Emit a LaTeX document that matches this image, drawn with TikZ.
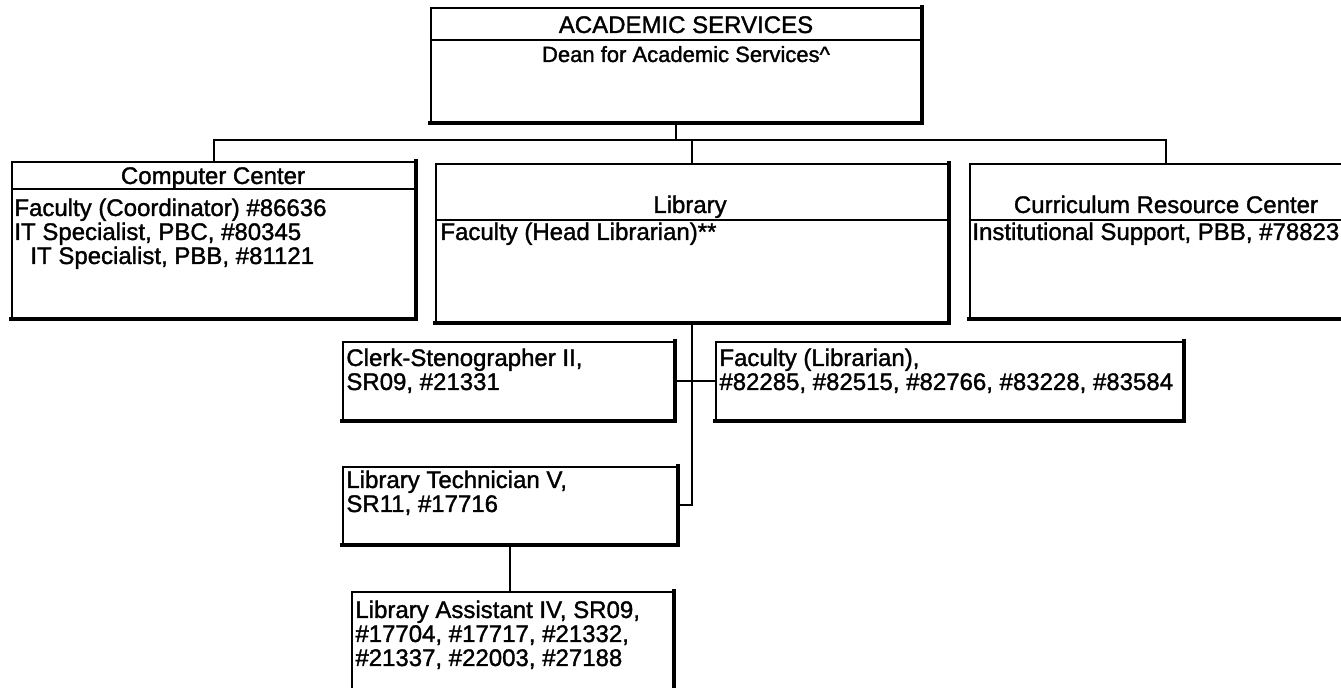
\documentclass[tikz,border=0pt]{standalone}
\usepackage{fontspec}
\setmainfont{Liberation Sans}[FakeBold=1.4]
\usetikzlibrary{fit}

\tikzset{
  box/.style={draw, line width=1.1pt, inner sep=0pt},
  edge shade/.style={line width=2.2pt, line cap=rect},
  divider/.style={line width=0.8pt},
  link/.style={line width=1pt},
  label text/.style={inner sep=0pt, align=left, font=\fontsize{12}{12}\selectfont},
}

\begin{document}
\begin{tikzpicture}[x=0.5pt, y=-0.5pt]
  \useasboundingbox (0,0) rectangle (1341,688);

  \node[box, fit={(431,8) (921,122)}]    (dean)  {};
  \node[box, fit={(12,162) (415,318)}]   (comp)  {};
  \node[box, fit={(436,164) (948,322)}]  (lib)   {};
  \node[box, fit={(970,164) (1362,318)}] (crc)   {};
  \node[box, fit={(343,342) (674,420)}]  (clerk) {};
  \node[box, fit={(716,342) (1183,420)}] (fac)   {};
  \node[box, fit={(343,467) (677,544)}]  (tech)  {};
  \node[box, fit={(352,592) (673,700)}]  (asst)  {};

  \foreach \n in {dean,comp,lib,crc,clerk,fac,tech,asst}
    \draw[edge shade] (\n.north east) -- (\n.south east) -- (\n.south west);

  \draw[divider] (dean.west |- 0,40)  -- (dean.east |- 0,40);
  \draw[divider] (comp.west |- 0,189) -- (comp.east |- 0,189);
  \draw[divider] (lib.west |- 0,220)  -- (lib.east |- 0,220);
  \draw[divider] (crc.west |- 0,220)  -- (crc.east |- 0,220);

  % multi-line texts sit on their last line
  \node[label text, anchor=base] (deanT) at (686,33) {ACADEMIC SERVICES};
  \node[label text, anchor=base, font=\fontsize{11}{12}\selectfont] (deanS) at (686,62)
    {Dean for Academic Services\textasciicircum};
  \node[label text, anchor=base] (compT) at (213,184) {Computer Center};
  \node[label text, anchor=base west] (compS) at (14,264)
    {Faculty (Coordinator) \#86636\\IT Specialist, PBC, \#80345\\\hspace*{8pt}IT Specialist, PBB, \#81121};
  \node[label text, anchor=base] (libT) at (690,213) {Library};
  \node[label text, anchor=base west] (libS) at (440,240) {Faculty (Head Librarian)**};
  \node[label text, anchor=base] (crcT) at (1166,213) {Curriculum Resource Center};
  \node[label text, anchor=base west] (crcS) at (972,240) {Institutional Support, PBB, \#78823};
  \node[label text, anchor=base west] (clerkT) at (346,390) {Clerk-Stenographer II,\\SR09, \#21331};
  \node[label text, anchor=base west] (facT) at (719,390)
    {Faculty (Librarian),\\\#82285, \#82515, \#82766, \#83228, \#83584};
  \node[label text, anchor=base west] (techT) at (346,512) {Library Technician V,\\SR11, \#17716};
  \node[label text, anchor=base west] (asstT) at (355,666)
    {Library Assistant IV, SR09,\\\#17704, \#17717, \#21332,\\\#21337, \#22003, \#27188};

  \coordinate (busL) at (comp.north |- 0,140);
  \coordinate (busR) at (crc.north |- 0,140);
  \draw[link] (dean.south) -- (dean.south |- busL);
  \draw[link] (comp.north) -- (busL) -- (busR) -- (crc.north);
  \draw[link] (lib.north) -- (lib.north |- busL);
  \draw[link] (lib.south) |- (tech.east);
  \draw[link] (clerk.east) -- (fac.west);
  \draw[link] (tech.south) -- (tech.south |- asst.north);
\end{tikzpicture}
\end{document}
